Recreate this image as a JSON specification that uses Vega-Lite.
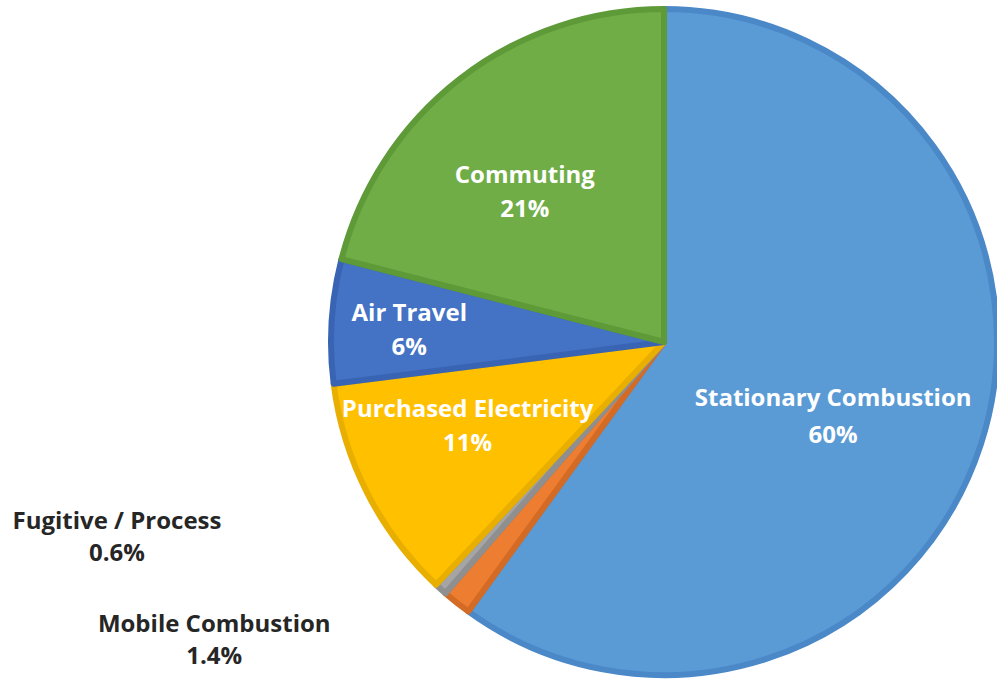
{
  "$schema": "https://vega.github.io/schema/vega-lite/v6.json",
  "width": 666,
  "height": 676,
  "autosize": {"type": "none"},
  "padding": {"left": 331, "top": 4, "right": 0, "bottom": 0},
  "background": "white",
  "view": {"stroke": null},
  "config": {"text": {"font": "Open Sans", "fontWeight": "bold", "fontSize": 24}},
  "data": {
    "values": [
      {"k": 1, "name": "Stationary Combustion", "value": 60, "pct": "60%"},
      {"k": 2, "name": "Mobile Combustion", "value": 1.4, "pct": "1.4%"},
      {"k": 3, "name": "Fugitive / Process", "value": 0.6, "pct": "0.6%"},
      {"k": 4, "name": "Purchased Electricity", "value": 11, "pct": "11%"},
      {"k": 5, "name": "Air Travel", "value": 6, "pct": "6%"},
      {"k": 6, "name": "Commuting", "value": 21, "pct": "21%"}
    ]
  },
  "encoding": {
    "theta": {"field": "value", "type": "quantitative", "stack": true},
    "order": {"field": "k", "type": "quantitative"}
  },
  "layer": [
    {
      "mark": {"type": "arc", "outerRadius": 333, "strokeWidth": 6, "strokeJoin": "round"},
      "encoding": {
        "color": {"field": "name", "type": "nominal", "legend": null,
          "scale": {"domain": ["Stationary Combustion", "Mobile Combustion", "Fugitive / Process", "Purchased Electricity", "Air Travel", "Commuting"],
                    "range": ["#5B9BD5", "#ED7D31", "#A5A5A5", "#FFC000", "#4472C4", "#70AD47"]}},
        "stroke": {"field": "name", "type": "nominal", "legend": null,
          "scale": {"domain": ["Stationary Combustion", "Mobile Combustion", "Fugitive / Process", "Purchased Electricity", "Air Travel", "Commuting"],
                    "range": ["#4A88C7", "#D46B25", "#8F8F8F", "#E8AE00", "#3964B3", "#5E9A38"]}}
      }
    },
    {"mark": {"type": "text", "radius": 185, "thetaOffset": 0.103, "dy": -18, "fill": "white"},
     "encoding": {"text": {"condition": {"test": "datum.k == 1", "field": "name"}, "value": ""}}},
    {"mark": {"type": "text", "radius": 185, "thetaOffset": 0.103, "dy": 19, "fill": "white"},
     "encoding": {"text": {"condition": {"test": "datum.k == 1", "field": "pct"}, "value": ""}}},
    {"mark": {"type": "text", "radius": 214, "thetaOffset": 0.063, "dy": -17, "fill": "white"},
     "encoding": {"text": {"condition": {"test": "datum.k == 4", "field": "name"}, "value": ""}}},
    {"mark": {"type": "text", "radius": 214, "thetaOffset": 0.063, "dy": 17, "fill": "white"},
     "encoding": {"text": {"condition": {"test": "datum.k == 4", "field": "pct"}, "value": ""}}},
    {"mark": {"type": "text", "radius": 255, "thetaOffset": -0.019, "dy": -17, "fill": "white"},
     "encoding": {"text": {"condition": {"test": "datum.k == 5", "field": "name"}, "value": ""}}},
    {"mark": {"type": "text", "radius": 255, "thetaOffset": -0.019, "dy": 17, "fill": "white"},
     "encoding": {"text": {"condition": {"test": "datum.k == 5", "field": "pct"}, "value": ""}}},
    {"mark": {"type": "text", "radius": 204, "thetaOffset": -0.091, "dy": -17, "fill": "white"},
     "encoding": {"text": {"condition": {"test": "datum.k == 6", "field": "name"}, "value": ""}}},
    {"mark": {"type": "text", "radius": 204, "thetaOffset": -0.091, "dy": 17, "fill": "white"},
     "encoding": {"text": {"condition": {"test": "datum.k == 6", "field": "pct"}, "value": ""}}},
    {"mark": {"type": "text", "radius": 581, "thetaOffset": 0.492, "dy": -16, "fill": "#262626"},
     "encoding": {"text": {"condition": {"test": "datum.k == 3", "field": "name"}, "value": ""}}},
    {"mark": {"type": "text", "radius": 581, "thetaOffset": 0.492, "dy": 16, "fill": "#262626"},
     "encoding": {"text": {"condition": {"test": "datum.k == 3", "field": "pct"}, "value": ""}}},
    {"mark": {"type": "text", "radius": 540, "thetaOffset": 0.312, "dy": -16, "fill": "#262626"},
     "encoding": {"text": {"condition": {"test": "datum.k == 2", "field": "name"}, "value": ""}}},
    {"mark": {"type": "text", "radius": 540, "thetaOffset": 0.312, "dy": 16, "fill": "#262626"},
     "encoding": {"text": {"condition": {"test": "datum.k == 2", "field": "pct"}, "value": ""}}}
  ]
}
